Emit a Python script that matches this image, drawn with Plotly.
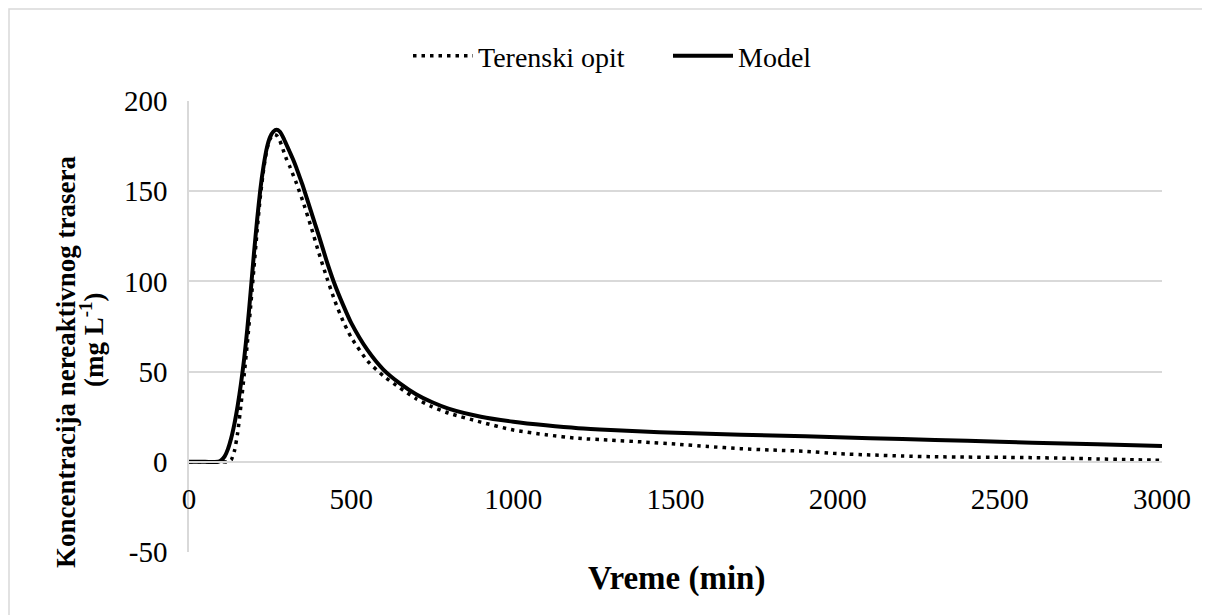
import plotly.graph_objects as go

# ---- data ----
model_x = [0, 50, 90, 100, 110, 120, 130, 140, 150, 160, 170, 180, 190, 200, 210, 220, 230, 240,
           250, 260, 270, 280, 290, 300, 310, 320, 330, 340, 350, 375, 400, 425, 450, 475, 500,
           550, 600, 650, 700, 750, 800, 900, 1000, 1100, 1200, 1300, 1400, 1500, 1600, 1800,
           2000, 2200, 2400, 2600, 2800, 3000]
model_y = [0, 0, 0, 1, 3, 7, 13, 21, 31, 43, 57, 74, 94, 115, 134, 151, 164, 174,
           180, 183, 184, 183, 180, 176, 172, 168, 163.5, 158.5, 153.5, 139.5, 125.5, 111, 98,
           87, 77, 62, 51, 43.5, 37.5, 33, 29.5, 25, 22.2, 20.2, 18.6, 17.6, 16.8, 16.1, 15.5,
           14.6, 13.6, 12.6, 11.6, 10.6, 9.7, 8.8]

field_x = [0, 50, 100, 120, 130, 140, 150, 160, 170, 180, 190, 200, 210, 220, 230, 240, 250,
           260, 270, 280, 290, 300, 310, 320, 330, 340, 350, 375, 400, 425, 450, 475, 500, 550,
           600, 650, 700, 750, 800, 900, 1000, 1100, 1200, 1300, 1400, 1500, 1600, 1700, 1800,
           1900, 2000, 2100, 2200, 2300, 2400, 2500, 2600, 2700, 2800, 2900, 3000]
field_y = [0, 0, 0, 0, 1, 6, 16, 31, 48, 66, 86, 107, 128, 147, 162, 173, 179,
           181.5, 181, 178, 173, 168, 164, 159.5, 155, 150, 145, 131, 116, 102, 89, 78, 69, 56,
           47.5, 41, 35, 30.5, 27, 22, 17.6, 15, 13, 12, 11, 9.8, 8.5, 7.3, 6.5,
           5.8, 4.5, 3.8, 3.2, 2.8, 2.6, 2.5, 2.3, 2.0, 1.6, 1.2, 0.8]

x_range = [0, 3000]
y_range = [-50, 200]
x_ticks = [0, 500, 1000, 1500, 2000, 2500, 3000]
y_ticks = [-50, 0, 50, 100, 150, 200]
y_ticktext = ["-50", "0", "50", "100", "150", "200"]

FONT = "'Liberation Serif', Tinos, 'Times New Roman', 'DejaVu Serif', serif"
GRID = "#d9d9d9"

W, H = 1210, 615
ML, MR, MT, MB = 181, 56, 93, 71

fig = go.Figure()
fig.add_trace(go.Scatter(x=field_x, y=field_y, mode="lines", name="Terenski opit",
                         line=dict(color="black", width=3.5, dash="3.5px,5px",
                                   shape="spline", smoothing=0.6)))
fig.add_trace(go.Scatter(x=model_x, y=model_y, mode="lines", name="Model",
                         line=dict(color="black", width=4, shape="spline", smoothing=0.6)))

pw = W - ML - MR
ph = H - MT - MB
zero_pos = (0 - y_range[0]) / (y_range[1] - y_range[0])


def px_x(p):
    return (p - ML) / pw


def px_y(p):
    return 1 - (p - MT) / ph


fig.update_layout(
    width=W, height=H,
    margin=dict(l=ML, r=MR, t=MT, b=MB, autoexpand=False),
    paper_bgcolor="white", plot_bgcolor="white",
    font=dict(family=FONT, size=28, color="black"),
    showlegend=True,
    legend=dict(orientation="h", x=px_x(400), xanchor="left",
                y=px_y(48), yanchor="middle",
                font=dict(family=FONT, size=28), itemwidth=60, traceorder="normal",
                entrywidth=185, entrywidthmode="pixels"),
    xaxis=dict(range=x_range, tickvals=x_ticks, showgrid=False, zeroline=False,
               showline=True, linecolor=GRID, linewidth=1.5, automargin=False,
               anchor="free", position=zero_pos,
               ticks="outside", ticklen=12, tickcolor="rgba(0,0,0,0)",
               tickfont=dict(family=FONT, size=29)),
    yaxis=dict(range=y_range, tickvals=y_ticks, ticktext=y_ticktext,
               showgrid=True, gridcolor=GRID, gridwidth=1.5, automargin=False,
               zeroline=False, showline=True, linecolor=GRID, linewidth=1.5,
               ticks="outside", ticklen=14, tickcolor="rgba(0,0,0,0)",
               tickfont=dict(family=FONT, size=29)),
    shapes=[dict(type="rect", xref="paper", yref="paper",
                 x0=px_x(1), x1=px_x(W + 20), y0=px_y(H + 20), y1=px_y(1),
                 line=dict(color=GRID, width=1.5), fillcolor="rgba(0,0,0,0)", layer="below")],
    annotations=[
        dict(text="<b>Vreme (min)</b>", xref="paper", yref="paper",
             x=px_x(668), y=px_y(570), xanchor="center", yanchor="middle",
             showarrow=False, font=dict(family=FONT, size=33)),
        dict(text="<b>Koncentracija nereaktivnog trasera</b>",
             xref="paper", yref="paper", textangle=-90,
             x=px_x(58), y=px_y(354), xanchor="center", yanchor="middle",
             showarrow=False, font=dict(family=FONT, size=27)),
        dict(text="<b>(mg L<sup>-1</sup>)</b>",
             xref="paper", yref="paper", textangle=-90,
             x=px_x(84), y=px_y(332), xanchor="center", yanchor="middle",
             showarrow=False, font=dict(family=FONT, size=27)),
    ],
)

fig.write_html("out.html")
